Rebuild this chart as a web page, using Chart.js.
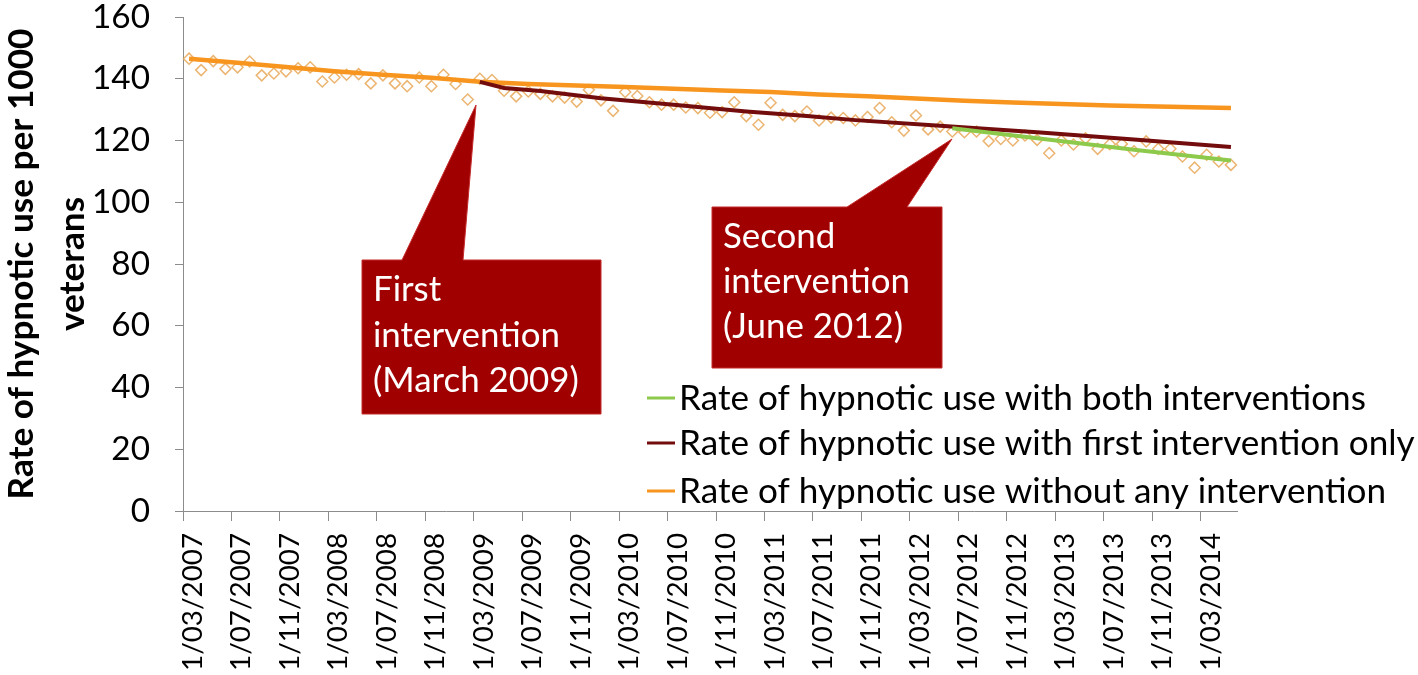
<!DOCTYPE html>
<html>
<head>
<meta charset="utf-8">
<script src="https://cdn.jsdelivr.net/npm/chart.js@4/dist/chart.umd.min.js"></script>
<style>
html,body{margin:0;padding:0;background:#ffffff;}
#wrap{width:1418px;height:675px;position:relative;overflow:hidden;}
canvas{display:block;}
</style>
</head>
<body>
<div id="wrap"><canvas id="c" width="1418" height="675"></canvas></div>
<script>
// ---------- DATA ----------
const categories = [
 '1/03/2007','1/04/2007','1/05/2007','1/06/2007','1/07/2007','1/08/2007','1/09/2007','1/10/2007','1/11/2007','1/12/2007',
 '1/01/2008','1/02/2008','1/03/2008','1/04/2008','1/05/2008','1/06/2008','1/07/2008','1/08/2008','1/09/2008','1/10/2008','1/11/2008','1/12/2008',
 '1/01/2009','1/02/2009','1/03/2009','1/04/2009','1/05/2009','1/06/2009','1/07/2009','1/08/2009','1/09/2009','1/10/2009','1/11/2009','1/12/2009',
 '1/01/2010','1/02/2010','1/03/2010','1/04/2010','1/05/2010','1/06/2010','1/07/2010','1/08/2010','1/09/2010','1/10/2010','1/11/2010','1/12/2010',
 '1/01/2011','1/02/2011','1/03/2011','1/04/2011','1/05/2011','1/06/2011','1/07/2011','1/08/2011','1/09/2011','1/10/2011','1/11/2011','1/12/2011',
 '1/01/2012','1/02/2012','1/03/2012','1/04/2012','1/05/2012','1/06/2012','1/07/2012','1/08/2012','1/09/2012','1/10/2012','1/11/2012','1/12/2012',
 '1/01/2013','1/02/2013','1/03/2013','1/04/2013','1/05/2013','1/06/2013','1/07/2013','1/08/2013','1/09/2013','1/10/2013','1/11/2013','1/12/2013',
 '1/01/2014','1/02/2014','1/03/2014','1/04/2014','1/05/2014'
];

// observed monthly rate (diamonds)
const observedRates = [
 146.5,142.8,145.7,143.2,143.7,145.6,141.1,141.7,142.4,143.4,
 143.7,139.1,140.4,141.3,141.5,138.5,141.1,138.5,137.6,140.4,137.6,141.3,
 138.3,133.3,140.0,139.6,136.1,134.3,135.9,135.1,134.3,133.9,132.6,136.4,
 133.0,129.6,135.7,134.4,132.4,131.6,131.6,130.7,130.5,129.0,129.2,132.4,
 127.9,125.1,132.2,128.3,127.9,129.4,126.5,127.4,127.3,126.5,127.6,130.5,
 125.9,123.2,128.1,123.6,124.5,122.9,122.7,122.9,119.8,120.5,120.0,121.6,
 120.2,115.9,120.0,118.7,120.7,117.3,118.8,118.9,116.5,119.7,117.3,117.3,
 114.8,111.2,115.4,113.2,112.1
];

// trend without any intervention (read at these months)
const noInterventionMonths = ['1/03/2007','1/07/2007','1/11/2007','1/03/2008','1/07/2008','1/11/2008','1/03/2009','1/07/2009','1/11/2009','1/03/2010','1/07/2010','1/11/2010','1/03/2011','1/07/2011','1/11/2011','1/03/2012','1/07/2012','1/11/2012','1/03/2013','1/07/2013','1/11/2013','1/03/2014','1/05/2014'];
const noInterventionRates  = [146.5,145.2,143.8,142.4,141.3,140.3,139.0,138.3,137.8,137.3,136.8,136.2,135.7,134.9,134.3,133.6,132.9,132.3,131.8,131.3,131.0,130.7,130.5];

// trend with first intervention only
const firstOnlyMonths = ['1/03/2009','1/05/2009','1/08/2009','1/01/2010','1/07/2010','1/01/2011','1/06/2011','1/10/2011','1/05/2012','1/01/2013','1/09/2013','1/05/2014'];
const firstOnlyRates  = [139.0,137.0,136.0,133.7,131.6,129.4,127.9,126.6,124.8,122.7,120.3,117.9];

// trend with both interventions
const bothMonths = ['1/06/2012','1/01/2013','1/09/2013','1/05/2014'];
const bothRates  = [124.0,120.7,117.0,113.5];

const seriesNames = [
 'Rate of hypnotic use with both interventions',
 'Rate of hypnotic use with first intervention only',
 'Rate of hypnotic use without any intervention'
];
const yTitleLines = ['Rate of hypnotic use per 1000','veterans'];
const calloutTexts = [
 ['First','intervention','(March 2009)'],
 ['Second','intervention','(June 2012)']
];

// ---------- STYLE / LAYOUT ----------
const FONT = 'Lato, "Noto Sans", sans-serif';
const GREEN = '#8DC94B', DARKRED = '#730C0C', ORANGE = '#F7951E';
const AXIS = '#8C8C8C';
const CALLOUT = '#A00000';

const mctx = document.createElement('canvas').getContext('2d');
function fitSize(text, target, weight) {
  mctx.font = (weight || 'normal') + ' 100px ' + FONT;
  return 100 * target / mctx.measureText(text).width;
}
const yTickSize  = fitSize('160', 58);
const xTickSize  = fitSize('1/03/2007', 138);
const titleSize  = fitSize(yTitleLines[0], 471, 'bold');
const legendSize = fitSize(seriesNames[0], 687);
const calloutSize = fitSize('intervention', 187);

Chart.defaults.font.family = FONT;
Chart.defaults.color = '#000';

const toPts = (months, vals) => months.map((m, k) => ({x: m, y: vals[k]}));

const callouts = [
  {box:[362,260,601,414], base:[402,463], tip:[476,105], tx:373, bl:[301,347,392], lines:calloutTexts[0]},
  {box:[712,207,942,368], base:[847,907], tip:[952,139], tx:723, bl:[248,293,338], lines:calloutTexts[1]}
];

const annotPlugin = {
  id: 'annot',
  afterDraw(chart) {
    const ctx = chart.ctx;
    ctx.save();
    // callouts
    for (const c of callouts) {
      const [x0,y0,x1,y1] = c.box;
      ctx.beginPath();
      ctx.moveTo(x0,y0);
      ctx.lineTo(c.base[0],y0);
      ctx.lineTo(c.tip[0],c.tip[1]);
      ctx.lineTo(c.base[1],y0);
      ctx.lineTo(x1,y0);
      ctx.lineTo(x1,y1);
      ctx.lineTo(x0,y1);
      ctx.closePath();
      ctx.fillStyle = CALLOUT;
      ctx.fill();
      ctx.lineWidth = 1;
      ctx.strokeStyle = '#C42B2B';
      ctx.stroke();
      ctx.fillStyle = '#FFFFFF';
      ctx.font = calloutSize.toFixed(2) + 'px ' + FONT;
      ctx.textAlign = 'left';
      ctx.textBaseline = 'alphabetic';
      c.lines.forEach((t, i) => ctx.fillText(t, c.tx, c.bl[i]));
    }
    // legend
    const ys = [398, 443, 491];
    const dsIdx = [0, 1, 2];
    ctx.font = legendSize.toFixed(2) + 'px ' + FONT;
    ctx.textBaseline = 'middle';
    dsIdx.forEach((d, i) => {
      const ds = chart.data.datasets[d];
      ctx.beginPath();
      ctx.moveTo(647, ys[i]);
      ctx.lineTo(675, ys[i]);
      ctx.strokeStyle = ds.borderColor;
      ctx.lineWidth = 3;
      ctx.stroke();
      ctx.fillStyle = '#000';
      ctx.fillText(ds.label, 679, ys[i] + 1);
    });
    ctx.restore();
  }
};

new Chart(document.getElementById('c'), {
  type: 'line',
  data: {
    labels: categories,
    datasets: [
      {label: seriesNames[0], data: toPts(bothMonths, bothRates), borderColor: GREEN, backgroundColor: GREEN, borderWidth: 4, pointRadius: 0, tension: 0, order: 0},
      {label: seriesNames[1], data: toPts(firstOnlyMonths, firstOnlyRates), borderColor: DARKRED, backgroundColor: DARKRED, borderWidth: 4, pointRadius: 0, tension: 0, order: 1},
      {label: seriesNames[2], data: toPts(noInterventionMonths, noInterventionRates), borderColor: ORANGE, backgroundColor: ORANGE, borderWidth: 4.5, pointRadius: 0, tension: 0, order: 2},
      {label: 'Observed rate', data: observedRates, showLine: false, pointStyle: 'rectRot', pointRadius: 5.5,
       pointBorderWidth: 1.5, pointBorderColor: 'rgba(232,168,88,0.85)', pointBackgroundColor: 'rgba(255,255,255,0)', order: 3}
    ]
  },
  options: {
    responsive: false,
    animation: false,
    devicePixelRatio: 1,
    layout: {padding: {left: 0, right: 181, top: 17, bottom: 0}},
    plugins: {legend: {display: false}, tooltip: {enabled: false}},
    scales: {
      x: {
        type: 'category',
        offset: true,
        grid: {offset: true, drawOnChartArea: false, drawTicks: true, tickLength: 10,
               color: (c) => (c.index % 4 === 0 ? AXIS : 'rgba(0,0,0,0)'), lineWidth: 1},
        border: {display: true, color: AXIS, width: 1},
        ticks: {autoSkip: false, maxRotation: 90, minRotation: 90, padding: 12, labelOffset: 4, color: '#000',
                font: {size: xTickSize},
                callback: (v, i) => (i % 4 === 0 ? categories[i] : '')},
        afterFit: (s) => { s.height = 164; s.paddingLeft = 0; s.paddingRight = 0; }
      },
      y: {
        min: 0, max: 160,
        ticks: {stepSize: 20, padding: 25, color: '#000', font: {size: yTickSize}},
        grid: {drawOnChartArea: false, drawTicks: true, tickLength: 8, color: AXIS},
        border: {display: true, color: AXIS, width: 1},
        title: {display: true, text: yTitleLines, color: '#000',
                font: {size: titleSize, weight: 'bold', lineHeight: 1.45},
                padding: {top: -4, bottom: 0}},
        afterFit: (s) => { s.width = 183; s.paddingTop = 0; s.paddingBottom = 0; }
      }
    }
  },
  plugins: [annotPlugin]
});
</script>
</body>
</html>
